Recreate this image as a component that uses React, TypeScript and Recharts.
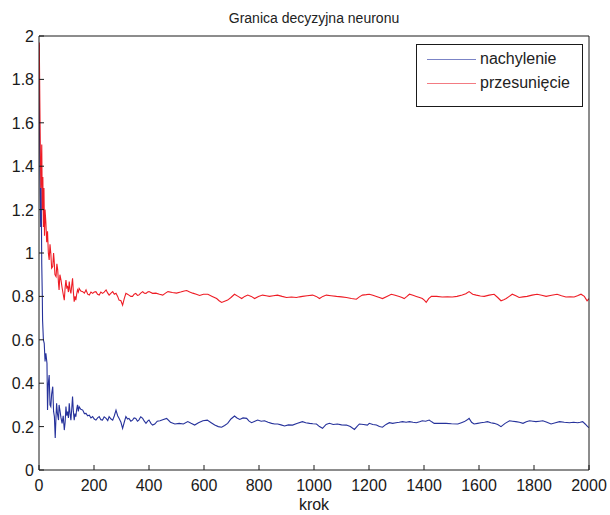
import { LineChart, Line, XAxis, YAxis, Legend } from "recharts";

// steps 0..2000
const xTicks = [0, 200, 400, 600, 800, 1000, 1200, 1400, 1600, 1800, 2000];
const yTicks = [0, 0.2, 0.4, 0.6, 0.8, 1, 1.2, 1.4, 1.6, 1.8, 2];

// [krok, value]
const nachylenie: [number, number][] = [
  [0, 1.96], [2, 1.55], [4, 1.33], [6, 1.12], [8, 1.3], [10, 0.95], [12, 0.8], [13, 0.69],
  [16, 0.6], [19, 0.584], [22, 0.5], [25, 0.538], [29, 0.492], [31, 0.276], [34, 0.4],
  [37, 0.438], [40, 0.3], [43, 0.292], [46, 0.35], [50, 0.384], [53, 0.27], [56, 0.246],
  [59, 0.147], [62, 0.25], [64, 0.307], [67, 0.26], [71, 0.23], [73, 0.3], [76, 0.276],
  [80, 0.24], [84, 0.215], [88, 0.25], [92, 0.184], [95, 0.22], [98, 0.292], [101, 0.25],
  [104, 0.269], [107, 0.24], [110, 0.307], [113, 0.26], [116, 0.23], [119, 0.28], [122, 0.338],
  [125, 0.27], [128, 0.23], [131, 0.26], [134, 0.246], [137, 0.28], [140, 0.3], [143, 0.27],
  [146, 0.292], [152, 0.28], [159, 0.276], [165, 0.26], [171, 0.261], [177, 0.25], [183, 0.253],
  [189, 0.24], [195, 0.246], [201, 0.235], [207, 0.23], [213, 0.24], [219, 0.246], [225, 0.232],
  [231, 0.23], [237, 0.245], [244, 0.238], [250, 0.228], [255, 0.246], [262, 0.235], [268, 0.23],
  [274, 0.25], [280, 0.276], [286, 0.25], [291, 0.238], [298, 0.22], [304, 0.192], [310, 0.22],
  [316, 0.246], [322, 0.235], [327, 0.238], [334, 0.225], [340, 0.23], [346, 0.24], [352, 0.238],
  [358, 0.225], [363, 0.23], [370, 0.245], [377, 0.238], [383, 0.225], [389, 0.215], [395, 0.225],
  [400, 0.23], [407, 0.215], [413, 0.207], [421, 0.212], [430, 0.225], [440, 0.227], [450, 0.232],
  [464, 0.238], [478, 0.22], [494, 0.212], [510, 0.215], [525, 0.212], [541, 0.223], [553, 0.215],
  [566, 0.207], [580, 0.218], [596, 0.227], [612, 0.23], [626, 0.218], [639, 0.207], [652, 0.2],
  [664, 0.197], [675, 0.205], [686, 0.215], [698, 0.235], [711, 0.249], [720, 0.24], [730, 0.233],
  [742, 0.24], [755, 0.238], [764, 0.225], [773, 0.218], [785, 0.225], [795, 0.23], [808, 0.225],
  [820, 0.227], [833, 0.22], [846, 0.215], [857, 0.212], [868, 0.212], [880, 0.208], [893, 0.203],
  [907, 0.208], [922, 0.207], [940, 0.215], [958, 0.223], [970, 0.218], [984, 0.215], [996, 0.213],
  [1009, 0.212], [1020, 0.2], [1031, 0.192], [1044, 0.21], [1056, 0.215], [1070, 0.21], [1085, 0.212],
  [1100, 0.208], [1118, 0.207], [1132, 0.2], [1147, 0.187], [1156, 0.2], [1165, 0.212], [1180, 0.21],
  [1194, 0.207], [1201, 0.215], [1214, 0.21], [1227, 0.207], [1238, 0.2], [1249, 0.197], [1262, 0.21],
  [1274, 0.218], [1286, 0.215], [1298, 0.218], [1310, 0.22], [1322, 0.223], [1335, 0.22], [1347, 0.223],
  [1360, 0.22], [1372, 0.218], [1384, 0.222], [1394, 0.227], [1406, 0.225], [1419, 0.23], [1428, 0.222],
  [1437, 0.215], [1458, 0.215], [1480, 0.215], [1500, 0.213], [1523, 0.212], [1536, 0.218], [1547, 0.223],
  [1556, 0.23], [1564, 0.238], [1573, 0.22], [1582, 0.212], [1595, 0.215], [1607, 0.218], [1620, 0.22],
  [1631, 0.223], [1643, 0.218], [1655, 0.215], [1668, 0.21], [1680, 0.2], [1695, 0.215], [1711, 0.227],
  [1722, 0.225], [1734, 0.223], [1747, 0.22], [1760, 0.215], [1772, 0.222], [1784, 0.227], [1796, 0.225],
  [1807, 0.223], [1820, 0.225], [1832, 0.227], [1847, 0.22], [1862, 0.212], [1878, 0.218], [1893, 0.223],
  [1910, 0.22], [1929, 0.218], [1944, 0.22], [1959, 0.218], [1968, 0.22], [1977, 0.223], [1986, 0.212],
  [1995, 0.2], [2000, 0.195],
];

const przesuniecie: [number, number][] = [
  [0, 1.93], [1, 1.97], [3, 1.7], [5, 1.45], [7, 1.3], [10, 1.5], [12, 1.2], [14, 1.35],
  [16, 1.12], [18, 1.3], [20, 1.08], [22, 1.2], [25, 1.14], [28, 1.05], [31, 1.1], [34, 1.0],
  [37, 0.968], [40, 1.04], [43, 0.998], [46, 0.93], [50, 0.937], [53, 1.0], [55, 0.968], [58, 0.9],
  [62, 0.891], [65, 0.95], [68, 0.922], [71, 0.86], [73, 0.83], [76, 0.9], [80, 0.875], [84, 0.84],
  [88, 0.81], [92, 0.783], [95, 0.84], [98, 0.875], [101, 0.84], [104, 0.845], [107, 0.82], [110, 0.868],
  [113, 0.83], [116, 0.814], [119, 0.85], [122, 0.883], [125, 0.82], [128, 0.776], [131, 0.8], [134, 0.783],
  [137, 0.81], [140, 0.83], [143, 0.82], [146, 0.837], [152, 0.825], [159, 0.822], [165, 0.815], [171, 0.83],
  [177, 0.81], [183, 0.806], [189, 0.82], [195, 0.814], [201, 0.82], [207, 0.822], [213, 0.81], [219, 0.806],
  [225, 0.82], [231, 0.814], [237, 0.82], [244, 0.83], [250, 0.815], [255, 0.806], [262, 0.815], [268, 0.822],
  [274, 0.81], [280, 0.814], [286, 0.8], [291, 0.783], [298, 0.78], [304, 0.76], [310, 0.79], [316, 0.814],
  [322, 0.81], [327, 0.806], [334, 0.8], [340, 0.8], [346, 0.81], [352, 0.814], [358, 0.805], [363, 0.806],
  [370, 0.815], [377, 0.822], [383, 0.815], [389, 0.814], [395, 0.82], [400, 0.822], [413, 0.814], [425, 0.815],
  [438, 0.81], [450, 0.806], [460, 0.815], [469, 0.822], [485, 0.818], [500, 0.815], [515, 0.82], [528, 0.825],
  [537, 0.827], [548, 0.82], [559, 0.815], [572, 0.81], [584, 0.804], [598, 0.81], [614, 0.81], [630, 0.8],
  [646, 0.79], [655, 0.78], [664, 0.772], [675, 0.778], [686, 0.783], [698, 0.795], [711, 0.81], [724, 0.8],
  [737, 0.79], [748, 0.8], [759, 0.806], [772, 0.8], [784, 0.79], [798, 0.8], [813, 0.806], [826, 0.803],
  [838, 0.8], [852, 0.803], [867, 0.806], [884, 0.8], [900, 0.795], [918, 0.797], [936, 0.795], [948, 0.798],
  [958, 0.8], [975, 0.803], [995, 0.806], [1008, 0.8], [1020, 0.79], [1032, 0.8], [1045, 0.806], [1062, 0.803],
  [1082, 0.8], [1100, 0.798], [1118, 0.795], [1136, 0.79], [1154, 0.787], [1165, 0.798], [1176, 0.806], [1190, 0.808],
  [1201, 0.81], [1214, 0.805], [1227, 0.8], [1238, 0.795], [1249, 0.79], [1265, 0.8], [1281, 0.81], [1295, 0.805],
  [1310, 0.8], [1320, 0.795], [1328, 0.79], [1338, 0.8], [1347, 0.81], [1360, 0.805], [1372, 0.8], [1384, 0.795],
  [1394, 0.79], [1402, 0.782], [1408, 0.773], [1417, 0.79], [1427, 0.8], [1446, 0.8], [1466, 0.797], [1485, 0.798],
  [1503, 0.797], [1520, 0.8], [1539, 0.806], [1552, 0.812], [1564, 0.822], [1577, 0.81], [1590, 0.806], [1605, 0.802],
  [1619, 0.8], [1637, 0.806], [1655, 0.81], [1668, 0.795], [1680, 0.78], [1690, 0.785], [1699, 0.79], [1710, 0.8],
  [1721, 0.81], [1734, 0.803], [1746, 0.795], [1760, 0.798], [1775, 0.8], [1793, 0.806], [1811, 0.81], [1828, 0.805],
  [1844, 0.8], [1864, 0.805], [1884, 0.81], [1900, 0.803], [1916, 0.797], [1931, 0.798], [1946, 0.797], [1958, 0.803],
  [1971, 0.81], [1983, 0.8], [1993, 0.78], [2000, 0.79],
];

const series = [
  { name: "nachylenie", color: "#26329b", legendColor: "#7b84c6", points: nachylenie },
  { name: "przesunięcie", color: "#ee1c25", legendColor: "#f37b82", points: przesuniecie },
];

const axisColor = "#1a1a1a";
const font = "'Liberation Sans', Arial, sans-serif";
const TICK = 5;

// matlab style: tick marks point into the plot box
function BottomTick({ x, y, payload }: any) {
  return (
    <g>
      <line x1={x} x2={x} y1={y} y2={y - TICK} stroke={axisColor} />
      <text x={x} y={y + 21} textAnchor="middle" fontSize={16} fill={axisColor} fontFamily={font}>
        {payload.value}
      </text>
    </g>
  );
}

function LeftTick({ x, y, payload }: any) {
  return (
    <g>
      <line x1={x} x2={x + TICK} y1={y} y2={y} stroke={axisColor} />
      <text x={x - 5} y={y + 6} textAnchor="end" fontSize={16} fill={axisColor} fontFamily={font}>
        {payload.value}
      </text>
    </g>
  );
}

function TopTick({ x, y }: any) {
  return <line x1={x} x2={x} y1={y} y2={y + TICK} stroke={axisColor} />;
}

function RightTick({ x, y }: any) {
  return <line x1={x} x2={x - TICK} y1={y} y2={y} stroke={axisColor} />;
}

function BoxLegend() {
  return (
    <div
      style={{
        border: `1px solid ${axisColor}`,
        background: "#fff",
        boxSizing: "border-box",
        width: 167,
        height: 63,
        paddingTop: 2,
      }}
    >
      {series.map((s) => (
        <div key={s.name} style={{ display: "flex", alignItems: "center", height: 24 }}>
          <span
            style={{
              display: "inline-block",
              width: 49,
              height: 0,
              borderTop: `1px solid ${s.legendColor}`,
              marginLeft: 10,
              marginRight: 4,
            }}
          />
          <span style={{ fontSize: 16, color: "#222" }}>{s.name}</span>
        </div>
      ))}
    </div>
  );
}

export default function App() {
  return (
    <div
      style={{
        position: "absolute",
        left: 0,
        top: 0,
        width: 610,
        height: 515,
        background: "#fff",
        fontFamily: font,
      }}
    >
      <div
        style={{
          position: "absolute",
          top: 10,
          left: 0,
          width: 628,
          textAlign: "center",
          fontSize: 14,
          color: "#222",
        }}
      >
        Granica decyzyjna neuronu
      </div>
      {/* top / right axes need a 1px size or recharts skips them */}
      <LineChart width={610} height={515} margin={{ top: 35, right: 20, bottom: 0, left: 0 }}>
        <XAxis
          dataKey="krok"
          type="number"
          domain={[0, 2000]}
          ticks={xTicks}
          allowDataOverflow
          height={45}
          tickSize={0}
          tickMargin={0}
          tickLine={false}
          stroke={axisColor}
          tick={<BottomTick />}
          label={{ value: "krok", position: "insideBottom", offset: 5, fontSize: 16, fill: axisColor, fontFamily: font }}
        />
        <XAxis
          xAxisId="top"
          orientation="top"
          type="number"
          domain={[0, 2000]}
          ticks={xTicks}
          height={1}
          tickSize={0}
          tickMargin={0}
          tickLine={false}
          tick={<TopTick />}
          stroke={axisColor}
        />
        <YAxis
          type="number"
          domain={[0, 2]}
          ticks={yTicks}
          allowDataOverflow
          width={39}
          tickSize={0}
          tickMargin={0}
          tickLine={false}
          stroke={axisColor}
          tick={<LeftTick />}
        />
        <YAxis
          yAxisId="right"
          orientation="right"
          type="number"
          domain={[0, 2]}
          ticks={yTicks}
          width={1}
          tickSize={0}
          tickMargin={0}
          tickLine={false}
          tick={<RightTick />}
          stroke={axisColor}
        />
        <Legend
          content={<BoxLegend />}
          layout="horizontal"
          verticalAlign="middle"
          align="center"
          wrapperStyle={{ top: 44, left: 416, width: 167 }}
        />
        {series.map((s) => (
          <Line
            key={s.name}
            name={s.name}
            data={s.points.map(([krok, value]) => ({ krok, value }))}
            dataKey="value"
            stroke={s.color}
            strokeWidth={1.1}
            dot={false}
            isAnimationActive={false}
          />
        ))}
      </LineChart>
    </div>
  );
}
